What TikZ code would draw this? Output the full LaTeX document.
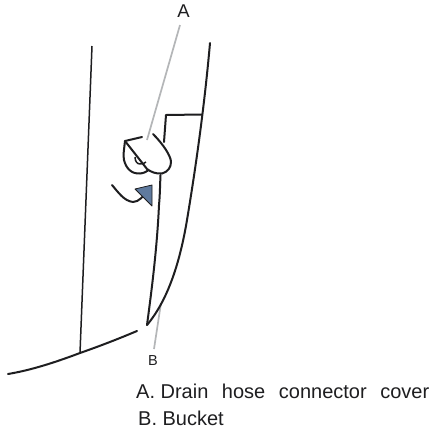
\documentclass[tikz,border=0pt]{standalone}
\usepackage{fontspec}
\setmainfont{Liberation Sans}
\definecolor{inkk}{HTML}{1E1E20}
\definecolor{lead}{HTML}{B4B6B8}
\definecolor{bluegray}{HTML}{5F7A9E}
\begin{document}
\begin{tikzpicture}[x=1pt,y=-1pt,
  heavy/.style={draw=inkk,line width=2pt,line cap=round,line join=round},
  thin line/.style={draw=inkk,line width=1.5pt,line cap=butt,line join=round},
  leader/.style={draw=lead,line width=1.7pt},
  calloutlabel/.style={text=inkk,inner sep=0pt},
  legendtext/.style={font=\fontsize{20}{24}\selectfont,text=inkk,inner sep=0pt,anchor=base west}]
\useasboundingbox (0,0) rectangle (434,429);
\fill[white] (0,0) rectangle (434,429);
% labels
\node[calloutlabel,font=\fontsize{18.5}{20}\selectfont] (labA) at (183.5,11) {A};
\node[calloutlabel,font=\fontsize{14.5}{16}\selectfont] (labB) at (153,361) {B};
\coordinate (leadAstart) at (180,25);
\coordinate (leadAend) at (147,140);
\coordinate (leadBstart) at (161,303);
\coordinate (leadBend) at (154,349);
\draw[leader] (leadAstart) -- (leadAend);
\draw[leader] (leadBstart) -- (leadBend);
% outer bucket
\draw[heavy] (210,43) .. controls (205,100) and (197,160) .. (187,220)
  .. controls (180,262) and (168,300) .. (147,325);
% inner bucket
\draw[heavy] (147,325) .. controls (151,295) and (157,250) .. (159,205) .. controls (160,195) and (160,185) .. (160.5,175);
\draw[heavy] (202,114.5) -- (166,115) -- (164,142);
% left line
\coordinate (joint) at (80,353);
\draw[thin line] (92,46) -- (joint);
\draw[heavy] (8,374) .. controls (32,370) and (56,362) .. (joint) .. controls (100,346) and (118,339) .. (137,331);
% cover
\draw[heavy] (142,137) -- (125,141) .. controls (124,150) and (123,155) .. (124,160)
  .. controls (126,168) and (131,174) .. (140,173.5) .. controls (144,173) and (146,172) .. (148,170.5);
\draw[heavy] (125,141) -- (147,169) .. controls (151,172) and (156,174) .. (162,173.5)
  .. controls (168,172) and (171,167) .. (171,162) .. controls (171,156) and (163,144) .. (153,134);
\draw[thin line] (135,157) .. controls (135,161) and (137,164) .. (140,164) .. controls (143,164) and (145,163) .. (146,162);
% turn arrow
\draw[heavy] (112,185) .. controls (118,192) and (124,201) .. (133,202) .. controls (139,202) and (143,196) .. (148,191);
\draw[draw=inkk,line width=0.8pt,fill=bluegray,line join=round] (135,189) -- (152,185) -- (152,206) -- cycle;
% legend
\node[legendtext] (legA) at (136,398) {A. Drain\hspace{8pt} hose\hspace{8pt} connector\hspace{8pt} cover};
\node[legendtext] (legB) at (138,425) {B. Bucket};
\end{tikzpicture}
\end{document}
